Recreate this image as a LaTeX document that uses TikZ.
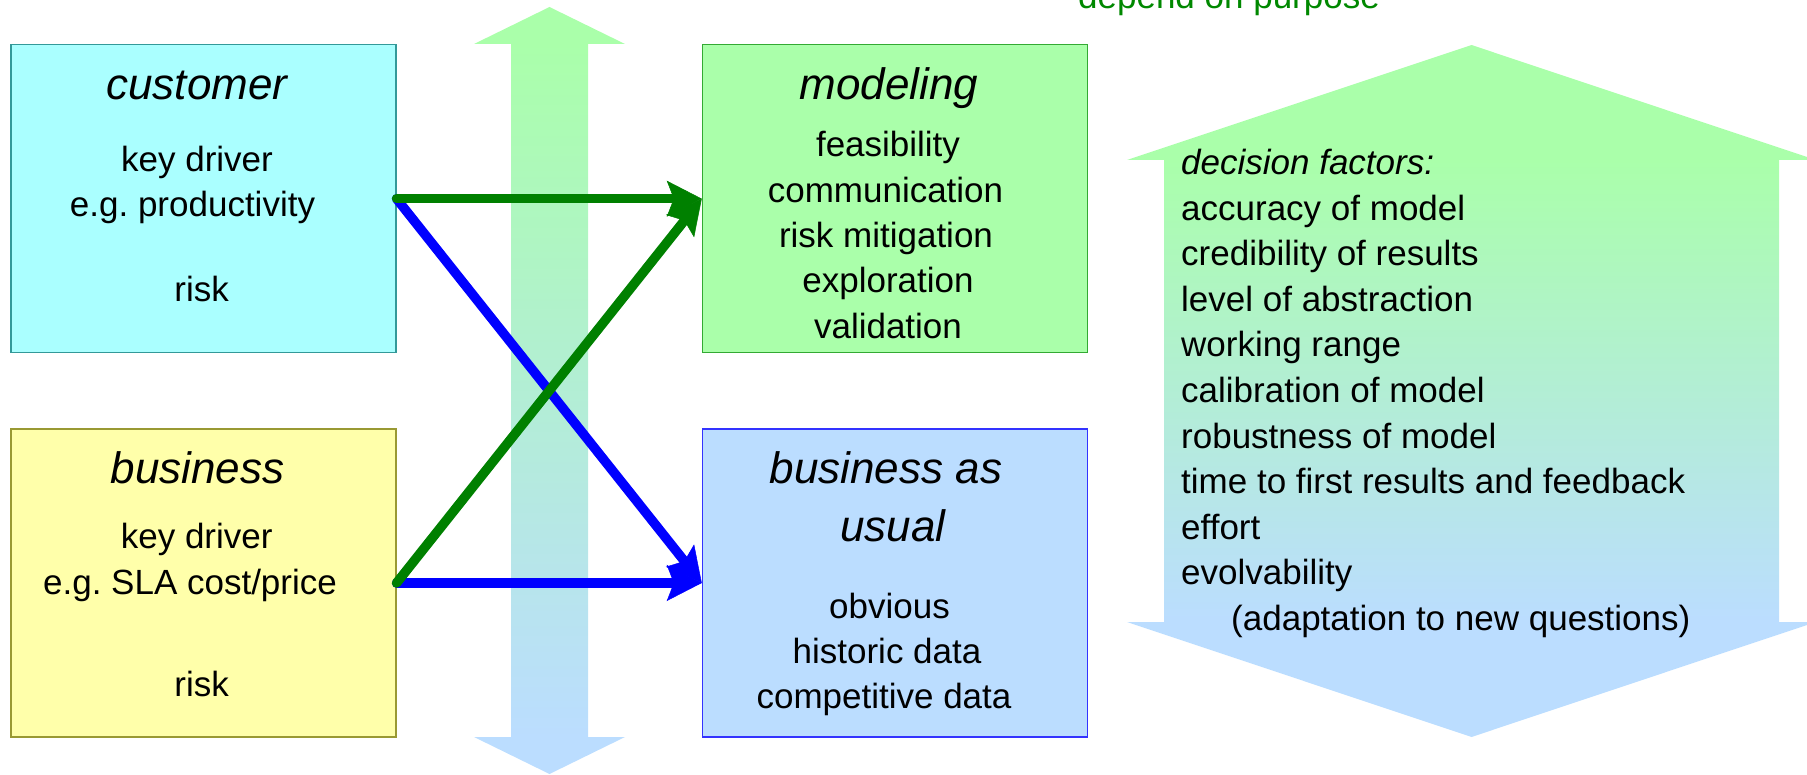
\documentclass[tikz,border=0pt]{standalone}
\usepackage{fontspec}
\setmainfont{Liberation Sans}
\frenchspacing
\usetikzlibrary{arrows.meta}
\definecolor{cyanfill}{HTML}{AAFFFF}
\definecolor{cyanedge}{HTML}{339999}
\definecolor{greenfill}{HTML}{AAFFAA}
\definecolor{greenedge}{HTML}{33AA33}
\definecolor{yellowfill}{HTML}{FFFFAA}
\definecolor{yellowedge}{HTML}{999933}
\definecolor{bluefill}{HTML}{BBDDFF}
\definecolor{blueedge}{HTML}{3333FF}
\definecolor{darkgreen}{RGB}{0,128,0}
\definecolor{purposegreen}{RGB}{0,136,0}
\tikzset{
  box/.style={draw, line width=1.5pt, minimum width=385pt, minimum height=308pt, inner sep=0pt, anchor=center},
  body/.style={anchor=base, inner sep=0pt, font=\fontsize{35}{42}\selectfont},
  ttl/.style={anchor=base, inner sep=0pt, font=\fontsize{44}{52}\selectfont\itshape},
  lst/.style={anchor=base west, inner sep=0pt, font=\fontsize{35}{42}\selectfont},
  conn/.style={line width=9.5pt, line cap=round, -{Stealth[length=35pt,width=36pt,inset=7pt,line width=0.5pt]}},
}
\begin{document}
\begin{tikzpicture}[x=1pt,y=-1pt]
\useasboundingbox (0,0) rectangle (1807,775);
\clip (0,0) rectangle (1807,775);

% narrow vertical double arrow
\fill[greenfill] (549.5,7) -- (625,44) -- (474,44) -- cycle;
\shade[top color=greenfill, bottom color=bluefill] (511,43.6) rectangle (588,737.4);
\fill[bluefill] (474,737) -- (625,737) -- (549.5,774) -- cycle;

% big right double arrow
\fill[greenfill] (1471.5,45) -- (1816,160) -- (1127,160) -- cycle;
\shade[top color=greenfill, bottom color=bluefill] (1164,159.6) rectangle (1779,622.4);
\fill[bluefill] (1127,622) -- (1816,622) -- (1471.5,737) -- cycle;

% top text (cut off at the top edge, as in the reference)
\node[body, text=purposegreen] (purpose) at (1229,8.3) {depend on purpose};

% boxes
\node[box, fill=cyanfill, draw=cyanedge] (cust) at (203.3,198.7) {};
\node[box, fill=greenfill, draw=greenedge] (mod) at (895,198.7) {};
\node[box, fill=yellowfill, draw=yellowedge] (bus) at (203.3,583) {};
\node[box, fill=bluefill, draw=blueedge] (bau) at (895,583) {};

% customer texts
\node[ttl] (custT) at (197,100) {customer};
\node[body] (custA) at (197,171.7) {key driver};
\node[body] (custB) at (192.5,216.7) {e.g. productivity};
\node[body] (custC) at (201.7,301.7) {risk};

% modeling texts
\node[ttl] (modT) at (889,100) {modeling};
\node[body] (modA) at (888,157) {feasibility};
\node[body] (modB) at (885.5,202.7) {communication};
\node[body] (modC) at (886,248) {risk mitigation};
\node[body] (modD) at (888,293) {exploration};
\node[body] (modE) at (888,338.3) {validation};

% business texts
\node[ttl] (busT) at (197.5,483.3) {business};
\node[body] (busA) at (196.7,548.3) {key driver};
\node[body] (busB) at (190,594) {e.g. SLA cost/price};
\node[body] (busC) at (201.7,696) {risk};

% business as usual texts
\node[ttl] (bauT) at (886,483.3) {business as};
\node[ttl] (bauU) at (893,541.7) {usual};
\node[body] (bauA) at (889.5,618.3) {obvious};
\node[body] (bauB) at (887,663.3) {historic data};
\node[body] (bauC) at (884,708.3) {competitive data};

% decision factors list
\node[lst, font=\fontsize{35}{42}\selectfont\itshape] (df0) at (1181,174.5) {decision factors:};
\node[lst] (df1) at (1181,220.1) {accuracy of model};
\node[lst] (df2) at (1181,265.7) {credibility of results};
\node[lst] (df3) at (1181,311.3) {level of abstraction};
\node[lst] (df4) at (1181,356.9) {working range};
\node[lst] (df5) at (1181,402.5) {calibration of model};
\node[lst] (df6) at (1181,448.1) {robustness of model};
\node[lst] (df7) at (1181,493.7) {time to first results and feedback};
\node[lst] (df8) at (1181,539.3) {effort};
\node[lst] (df9) at (1181,584.9) {evolvability};
\node[lst] (df10) at (1231,630.5) {(adaptation to new questions)};

% connectors
\draw[conn, blue] (cust.east) -- (bau.west);
\draw[conn, blue] (bus.east) -- (bau.west);
\draw[conn, darkgreen] (cust.east) -- (mod.west);
\draw[conn, darkgreen] (bus.east) -- (mod.west);
\end{tikzpicture}
\end{document}
